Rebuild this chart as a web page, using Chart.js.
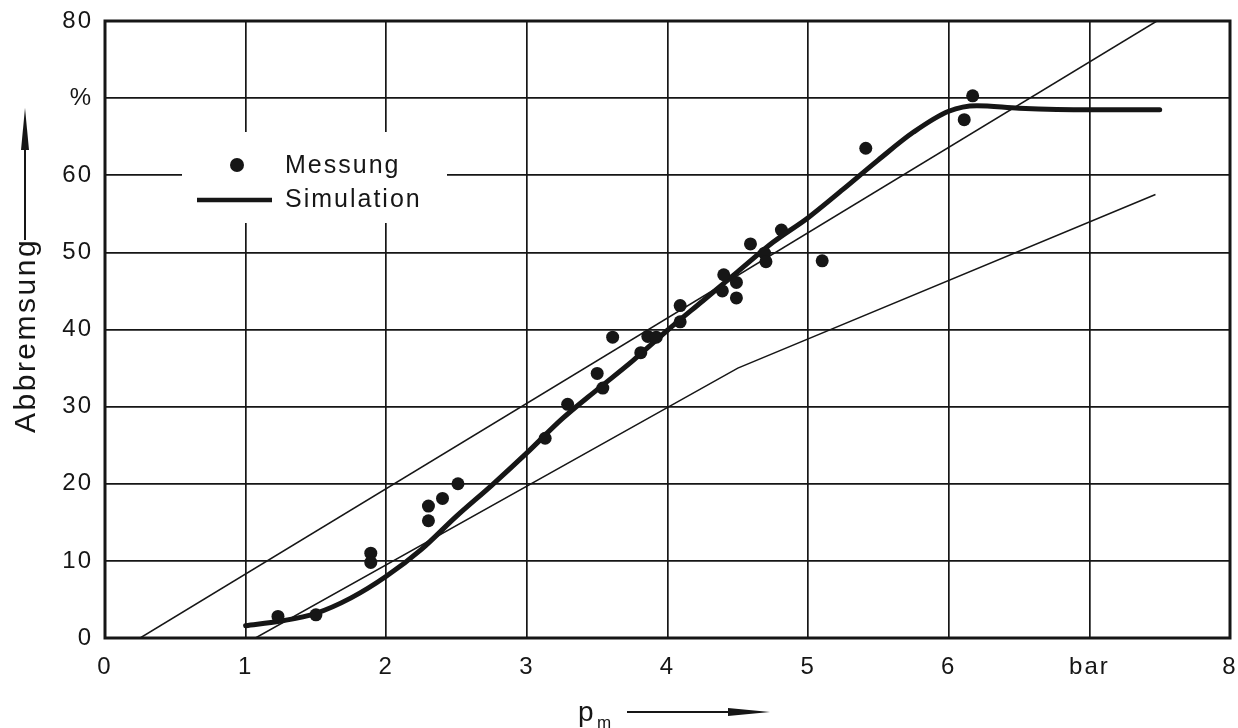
<!DOCTYPE html>
<html>
<head>
<meta charset="utf-8">
<style>
  html, body { margin: 0; padding: 0; background: #ffffff; }
  #wrap { width: 1238px; height: 728px; position: relative; }
</style>
<script src="https://cdn.jsdelivr.net/npm/chart.js@4.4.1/dist/chart.umd.min.js"></script>
</head>
<body>
<div id="wrap"><canvas id="chart" width="1238" height="728"></canvas></div>
<script>
// Tick labels (unit markers replace the 7th x tick and the 70 y tick)
const xTickLabels = ['0', '1', '2', '3', '4', '5', '6', 'bar', '8'];
const yTickLabels = ['0', '10', '20', '30', '40', '50', '60', '%', '80'];

// Measured braking ratio over mean pressure
const messungX = [1.23, 1.50, 1.89, 1.89, 2.30, 2.30, 2.40, 2.51, 3.13, 3.29,
                  3.50, 3.54, 3.61, 3.81, 3.86, 3.92, 4.09, 4.09, 4.40, 4.39,
                  4.49, 4.49, 4.59, 4.69, 4.70, 4.81, 5.10, 5.41, 6.11, 6.17];
const messungY = [2.8, 3.0, 11.0, 9.8, 17.1, 15.2, 18.1, 20.0, 25.9, 30.3,
                  34.3, 32.4, 39.0, 37.0, 39.1, 39.0, 43.1, 41.0, 47.1, 45.0,
                  46.1, 44.1, 51.1, 49.9, 48.8, 52.9, 48.9, 63.5, 67.2, 70.3];

// Simulated curve
const simX = [1.0, 1.25, 1.5, 1.75, 2.0, 2.25, 2.5, 2.75, 3.0, 3.25, 3.5, 3.75,
              4.0, 4.25, 4.5, 4.75, 5.0, 5.25, 5.5, 5.75, 6.0, 6.2, 6.5, 7.0, 7.5];
const simY = [1.6, 2.2, 3.2, 5.2, 8.0, 11.5, 15.8, 19.8, 24.0, 28.4, 32.2, 35.9,
              39.9, 43.7, 47.5, 51.3, 54.5, 58.2, 62.0, 65.6, 68.3, 69.0, 68.7, 68.5, 68.5];

// Thin reference lines
const refUpperX = [0.25, 7.48];
const refUpperY = [0, 80];
const refLowerX = [1.07, 4.5, 7.47];
const refLowerY = [0, 35, 57.5];

const INK = '#161616';
const FONT = "'Liberation Sans', Arial, Helvetica, sans-serif";

const pts = (xs, ys) => xs.map((x, i) => ({ x: x, y: ys[i] }));

// Wider tracking for all canvas text
const spacingPlugin = {
  id: 'spacing',
  beforeLayout(chart) { chart.ctx.letterSpacing = '2px'; },
  beforeDraw(chart) { chart.ctx.letterSpacing = '2px'; }
};

// Plot frame and the in-plot legend box
const framePlugin = {
  id: 'frame',
  beforeDatasetsDraw(chart) {
    const { ctx, chartArea: a } = chart;
    ctx.save();
    ctx.strokeStyle = INK;
    ctx.lineWidth = 3;
    ctx.strokeRect(a.left, a.top, a.right - a.left, a.bottom - a.top);

    // legend
    const lx = a.left + 77, ly = a.top + 111;
    ctx.fillStyle = '#ffffff';
    ctx.fillRect(lx, ly, 265, 91);
    const ds = chart.data.datasets;
    ctx.fillStyle = ds[0].backgroundColor;
    ctx.beginPath();
    ctx.arc(lx + 55, ly + 33, 7, 0, Math.PI * 2);
    ctx.fill();
    ctx.strokeStyle = ds[1].borderColor;
    ctx.lineWidth = 4.5;
    ctx.beginPath();
    ctx.moveTo(lx + 15, ly + 68);
    ctx.lineTo(lx + 90, ly + 68);
    ctx.stroke();
    ctx.fillStyle = INK;
    ctx.font = '25px ' + FONT;
    ctx.letterSpacing = '2px';
    ctx.textAlign = 'left';
    ctx.textBaseline = 'middle';
    ctx.fillText(ds[0].label, lx + 103, ly + 34);
    ctx.fillText(ds[1].label, lx + 103, ly + 68);
    ctx.restore();
  },
  afterDraw(chart) {
    const { ctx } = chart;
    ctx.save();
    ctx.fillStyle = INK;
    ctx.strokeStyle = INK;

    // y axis title with upward arrow
    ctx.font = '30px ' + FONT;
    ctx.letterSpacing = '2.5px';
    ctx.save();
    ctx.translate(35, 433);
    ctx.rotate(-Math.PI / 2);
    ctx.textAlign = 'left';
    ctx.textBaseline = 'alphabetic';
    ctx.fillText('Abbremsung', 0, 0);
    ctx.restore();
    ctx.lineWidth = 2;
    ctx.beginPath();
    ctx.moveTo(25, 240);
    ctx.lineTo(25, 140);
    ctx.stroke();
    ctx.beginPath();
    ctx.moveTo(25, 108);
    ctx.lineTo(29, 150);
    ctx.lineTo(21, 150);
    ctx.closePath();
    ctx.fill();

    // x axis title with rightward arrow
    ctx.letterSpacing = '0px';
    ctx.textAlign = 'left';
    ctx.textBaseline = 'alphabetic';
    ctx.font = '28px ' + FONT;
    ctx.fillText('p', 578, 721);
    ctx.font = '17px ' + FONT;
    ctx.fillText('m', 597, 728);
    ctx.lineWidth = 2;
    ctx.beginPath();
    ctx.moveTo(627, 712);
    ctx.lineTo(735, 712);
    ctx.stroke();
    ctx.beginPath();
    ctx.moveTo(770, 712);
    ctx.lineTo(728, 716);
    ctx.lineTo(728, 708);
    ctx.closePath();
    ctx.fill();
    ctx.restore();
  }
};

new Chart(document.getElementById('chart'), {
  type: 'scatter',
  data: {
    datasets: [
      {
        label: 'Messung',
        data: pts(messungX, messungY),
        backgroundColor: INK,
        borderColor: INK,
        pointRadius: 6.5,
        pointHoverRadius: 6.5,
        borderWidth: 0,
        showLine: false
      },
      {
        label: 'Simulation',
        data: pts(simX, simY),
        borderColor: INK,
        borderWidth: 5,
        pointRadius: 0,
        showLine: true,
        cubicInterpolationMode: 'monotone',
        borderCapStyle: 'round',
        borderJoinStyle: 'round'
      },
      {
        label: 'upper',
        data: pts(refUpperX, refUpperY),
        borderColor: INK,
        borderWidth: 1.5,
        pointRadius: 0,
        showLine: true
      },
      {
        label: 'lower',
        data: pts(refLowerX, refLowerY),
        borderColor: INK,
        borderWidth: 1.5,
        pointRadius: 0,
        showLine: true
      }
    ]
  },
  options: {
    responsive: false,
    animation: false,
    devicePixelRatio: 1,
    layout: { padding: { left: 0, right: 8, top: 21, bottom: 0 } },
    plugins: {
      legend: { display: false },
      tooltip: { enabled: false },
      title: { display: false }
    },
    scales: {
      x: {
        type: 'linear',
        min: 0,
        max: 8,
        afterFit(s) { s.height = 90; s.paddingLeft = 0; s.paddingRight = 0; },
        ticks: {
          stepSize: 1,
          padding: 15,
          color: INK,
          font: { family: FONT, size: 24 },
          callback: (v) => xTickLabels[v] !== undefined ? xTickLabels[v] : ''
        },
        grid: { color: INK, lineWidth: 1.7, drawTicks: false },
        border: { display: false }
      },
      y: {
        type: 'linear',
        min: 0,
        max: 80,
        afterFit(s) { s.width = 105; s.paddingTop = 0; s.paddingBottom = 0; },
        ticks: {
          stepSize: 10,
          padding: 12,
          color: INK,
          font: { family: FONT, size: 24 },
          callback: (v) => yTickLabels[v / 10] !== undefined ? yTickLabels[v / 10] : ''
        },
        grid: { color: INK, lineWidth: 1.7, drawTicks: false },
        border: { display: false }
      }
    }
  },
  plugins: [spacingPlugin, framePlugin]
});
</script>
</body>
</html>
